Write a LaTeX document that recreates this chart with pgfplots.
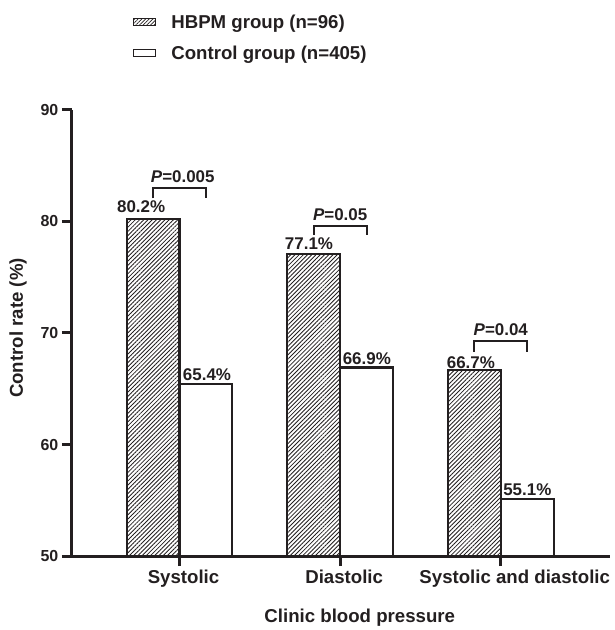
\documentclass[border=0pt]{standalone}
\usepackage{fontspec}
\setmainfont{Liberation Sans}
\usepackage{pgfplots}
\pgfplotsset{compat=1.18}
\usetikzlibrary{patterns.meta}
\definecolor{ink}{HTML}{231F20}
\newcommand{\lf}{\fontsize{18.7}{22}\selectfont\bfseries}
\newcommand{\df}{\fontsize{17}{20}\selectfont\bfseries}
\newcommand{\tf}{\fontsize{16}{19}\selectfont\bfseries}
\begin{document}
\begin{tikzpicture}
\path (-72pt,-72pt) rectangle (545pt,558pt);
\begin{axis}[
  at={(0,0)}, anchor=south west,
  scale only axis, width=540pt, height=448pt,
  xmin=0.329, xmax=3.68, ymin=50, ymax=90,
  axis x line*=bottom, axis y line*=left,
  axis line style={line width=3pt, ink},
  xtick={1,2,3},
  xticklabels={Systolic,Diastolic,{\hspace*{20pt}Systolic and diastolic}},
  ytick={50,60,70,80,90},
  tick align=outside,
  major tick length=10pt,
  tick style={line width=3pt, ink},
  x tick label style={font=\lf, text=ink, xshift=4pt},
  y tick label style={font=\tf, text=ink},
  /pgf/number format/assume math mode=true,
  xlabel={Clinic blood pressure},
  ylabel={Control rate (\%)},
  xlabel style={font=\lf, text=ink, at={(axis description cs:0.535,0)}, anchor=center, yshift=-62pt},
  ylabel style={font=\lf, text=ink, at={(axis description cs:-0.1,0.511)}, rotate=0, anchor=center},
  legend style={at={(axis description cs:0.108,1.222)}, anchor=north west, draw=none, fill=none,
    font=\lf, text=ink, row sep=12pt, legend cell align=left},
  clip=true,
]
\addplot[ybar, bar width=53pt, bar shift=-26.5pt, draw=ink, line width=2.2pt,
  pattern={Lines[angle=45,distance=3pt,line width=0.85pt]}, pattern color=ink,
  legend image code/.code={\draw[draw=ink, line width=1.4pt, pattern={Lines[angle=45,distance=2.6pt,line width=0.7pt]}, pattern color=ink] (0pt,-3.5pt) rectangle (22pt,3.5pt);}]
  coordinates {(1,80.2) (2,77.1) (3,66.7)};
\addlegendentry{\hspace*{13pt}HBPM group (n=96)}
\addplot[ybar, bar width=53pt, bar shift=26.5pt, draw=ink, line width=2.2pt, fill=white,
  legend image code/.code={\draw[draw=ink, line width=1.4pt, fill=white] (0pt,-3.5pt) rectangle (22pt,3.5pt);}]
  coordinates {(1,65.4) (2,66.9) (3,55.1)};
\addlegendentry{\hspace*{13pt}Control group (n=405)}
% value labels
\node[anchor=base, font=\df, text=ink] at (axis cs:0.761,80.8) {80.2\%};
\node[anchor=base, font=\df, text=ink] at (axis cs:1.171,65.75) {65.4\%};
\node[anchor=base, font=\df, text=ink] at (axis cs:1.806,77.45) {77.1\%};
\node[anchor=base, font=\df, text=ink] at (axis cs:2.166,67.2) {66.9\%};
\node[anchor=base, font=\df, text=ink] at (axis cs:2.814,66.85) {66.7\%};
\node[anchor=base, font=\df, text=ink] at (axis cs:3.165,55.45) {55.1\%};
% brackets
\draw[ink, line width=2pt] (axis cs:0.8354,82.05) -- (axis cs:0.8354,83.0) -- (axis cs:1.1646,83.0) -- (axis cs:1.1646,82.05);
\draw[ink, line width=2pt] (axis cs:1.8354,78.75) -- (axis cs:1.8354,79.6) -- (axis cs:2.1646,79.6) -- (axis cs:2.1646,78.75);
\draw[ink, line width=2pt] (axis cs:2.8354,68.3) -- (axis cs:2.8354,69.3) -- (axis cs:3.1646,69.3) -- (axis cs:3.1646,68.3);
\node[anchor=base, font=\df, text=ink] at (axis cs:1.02,83.5) {\textit{P}=0.005};
\node[anchor=base, font=\df, text=ink] at (axis cs:2.0,80.05) {\textit{P}=0.05};
\node[anchor=base, font=\df, text=ink] at (axis cs:3.0,69.75) {\textit{P}=0.04};
\end{axis}
\end{tikzpicture}
\end{document}
